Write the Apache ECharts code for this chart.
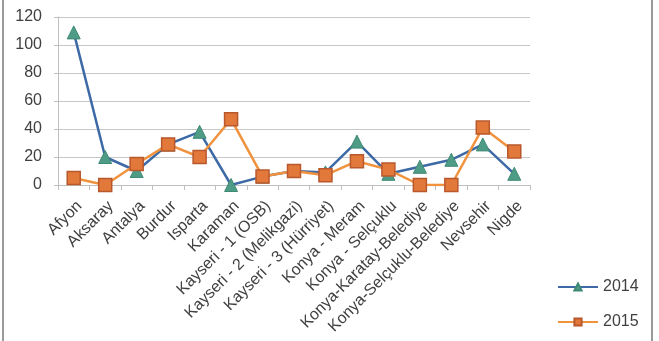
<!DOCTYPE html>
<html><head><meta charset="utf-8">
<script src="https://cdn.jsdelivr.net/npm/echarts@6/dist/echarts.min.js"></script>
<style>
html,body{margin:0;padding:0;background:#fff;}
#frame{position:absolute;left:2px;top:0;width:647px;height:341px;border-left:2px solid #9a9a9a;border-right:2px solid #9a9a9a;}
#c{position:absolute;left:0;top:0;width:659px;height:341px;}
</style></head>
<body>
<div id="frame"></div>
<div id="c"></div>
<script>
const categories = ["Afyon","Aksaray","Antalya","Burdur","Isparta","Karaman","Kayseri - 1 (OSB)","Kayseri - 2 (Melikgazi)","Kayseri - 3 (Hürriyet)","Konya - Meram","Konya - Selçuklu","Konya-Karatay-Belediye","Konya-Selçuklu-Belediye","Nevsehir","Nigde"];
const values2014 = [109,20,10,29,38,0,6,10,9,31,8,13,18,29,8];
const values2015 = [5,0,15,29,20,47,6,10,7,17,11,0,0,41,24];
const yTicks = [0,20,40,60,80,100,120];

const chart = echarts.init(document.getElementById('c'));
chart.setOption({
  animation:false,
  grid:{left:58,right:129,top:17,bottom:156},
  legend:{
    orient:'vertical', left:552, top:274, itemGap:19, itemWidth:40, itemHeight:9,
    textStyle:{fontFamily:'Liberation Sans',fontSize:16,color:'#404040'},
    data:['2014','2015']
  },
  xAxis:{
    type:'category', data:categories, boundaryGap:true,
    axisLine:{lineStyle:{color:'#bfbfbf'}},
    axisTick:{show:true,length:5,lineStyle:{color:'#bfbfbf'}},
    axisLabel:{rotate:45,interval:0,fontFamily:'Liberation Sans',fontSize:16,color:'#404040',margin:13,verticalAlign:'top'}
  },
  yAxis:{
    type:'value', min:0, max:120, interval:20,
    axisLine:{show:true,lineStyle:{color:'#bfbfbf'}},
    axisTick:{show:true,length:4,lineStyle:{color:'#bfbfbf'}},
    axisLabel:{fontFamily:'Liberation Sans',fontSize:16,color:'#404040',margin:16,
      formatter:v=>yTicks.includes(v)?String(v):''},
    splitLine:{lineStyle:{color:'#c8c8c8'}}
  },
  series:[
    {name:'2014',type:'line',data:values2014,symbol:'triangle',symbolSize:13,
     lineStyle:{color:'#3d6aa6',width:2.5},
     itemStyle:{color:'#4f9c86',borderColor:'#3f8a74',borderWidth:1},z:2},
    {name:'2015',type:'line',data:values2015,symbol:'rect',symbolSize:13,
     lineStyle:{color:'#f0923e',width:2.5},
     itemStyle:{color:'#e2793a',borderColor:'#b9582d',borderWidth:1.5},z:3}
  ]
});
</script>
</body></html>
